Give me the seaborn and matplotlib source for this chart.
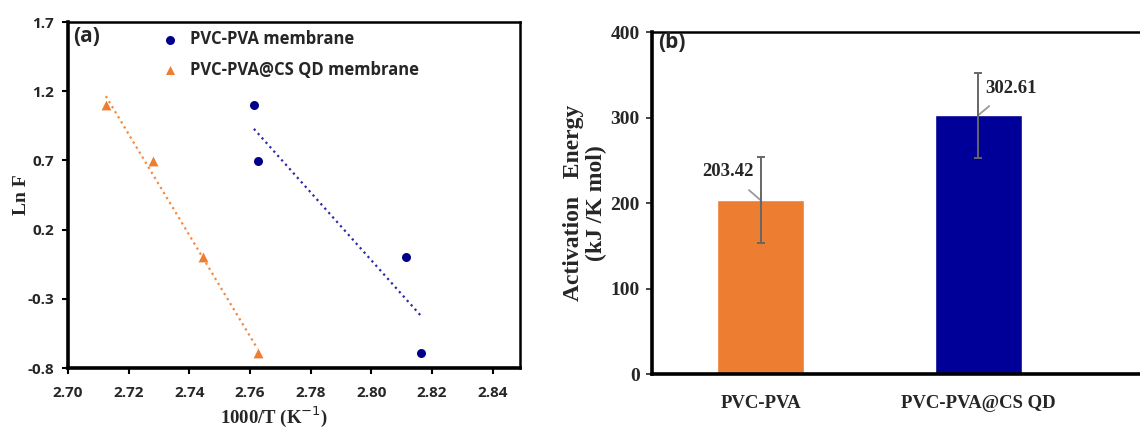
import seaborn as sns
import matplotlib.pyplot as plt
import pandas as pd

# panel (a) data: 1000/T vs ln F
x_pva = [2.7613, 2.7627, 2.8115, 2.8163]
y_pva = [1.0986, 0.693, 0.0, -0.693]
x_qd = [2.7125, 2.7280, 2.7445, 2.7625]
y_qd = [1.0986, 0.693, 0.0, -0.693]

# panel (b) data
membranes = ['PVC-PVA', 'PVC-PVA@CS QD']
energy = [203.42, 302.61]
energy_err = [50, 50]

orange = '#ED7D31'
blue = '#00008B'
serif = 'Liberation Serif'
sans = 'Open Sans'

sns.set_style('white')
plt.rcParams['font.family'] = [sans, 'DejaVu Sans']

fig = plt.figure(figsize=(11.4, 4.34), dpi=100)
ax1 = fig.add_axes([0.0596, 0.152, 0.3965, 0.797])
ax2 = fig.add_axes([0.572, 0.138, 0.4281, 0.788])

# ---- (a)
sns.regplot(x=x_pva, y=y_pva, ax=ax1, ci=None, color=blue, marker='o',
            scatter_kws={'s': 42, 'alpha': 1, 'linewidths': 0, 'zorder': 3},
            line_kws={'ls': ':', 'lw': 1.6, 'color': '#2a2aa8'},
            label='PVC-PVA membrane')
sns.regplot(x=x_qd, y=y_qd, ax=ax1, ci=None, color=orange, marker='^',
            scatter_kws={'s': 50, 'alpha': 1, 'linewidths': 0, 'zorder': 3},
            line_kws={'ls': ':', 'lw': 1.6, 'color': '#F08A45'},
            label='PVC-PVA@CS QD membrane')
ax1.set_xlim(2.70, 2.849)
ax1.set_ylim(-0.8, 1.7)
ax1.set_xticks([2.70, 2.72, 2.74, 2.76, 2.78, 2.80, 2.82, 2.84])
ax1.set_yticks([-0.8, -0.3, 0.2, 0.7, 1.2, 1.7])
ax1.set_xticklabels(['%.2f' % t for t in ax1.get_xticks()], fontsize=11, fontweight='bold')
ax1.set_yticklabels(['%.1f' % t for t in ax1.get_yticks()], fontsize=11, fontweight='bold')
ax1.tick_params(axis='both', direction='out', length=4, width=1.5, color='black',
                left=True, bottom=True)
ax1.tick_params(axis='y', pad=6)
ax1.tick_params(axis='x', pad=9)
for side in ['left', 'bottom']:
    ax1.spines[side].set_linewidth(2.6)
for side in ['top', 'right']:
    ax1.spines[side].set_linewidth(1.8)
for s in ax1.spines.values():
    s.set_color('black')
ax1.set_xlabel('1000/T (K$^{-1}$)', fontsize=13.5, fontweight='bold', family=serif)
ax1.xaxis.set_label_coords(0.455, -0.105)
ax1.set_ylabel('Ln F', fontsize=14, fontweight='bold', family=serif)
ax1.yaxis.set_label_coords(-0.085, 0.5)
ax1.text(0.012, 0.99, '(a)', transform=ax1.transAxes, fontsize=15, fontweight='bold',
         va='top', ha='left')
leg = ax1.legend(loc='upper left', bbox_to_anchor=(0.17, 1.02), frameon=False,
                 prop={'size': 12, 'weight': 'bold'}, handletextpad=0.6,
                 labelspacing=0.75, handlelength=1.2)
for h in leg.legend_handles:
    h.set_sizes([42])

# ---- (b)
df = pd.DataFrame({'membrane': membranes, 'energy': energy})
sns.barplot(data=df, x='membrane', y='energy', hue='membrane',
            palette=[orange, '#000099'], width=0.4, ax=ax2, legend=False,
            saturation=1)
ax2.errorbar(range(len(membranes)), energy, yerr=energy_err, fmt='none',
             ecolor='#666666', elinewidth=1.4, capsize=3, capthick=1.4, zorder=4)
ax2.set_xlim(-0.499, 1.745)
ax2.set_ylim(0, 400)
ax2.set_yticks([0, 100, 200, 300, 400])
ax2.set_yticklabels(['0', '100', '200', '300', '400'], fontsize=14,
                    fontweight='bold', family=serif)
ax2.set_xticks(range(len(membranes)))
ax2.set_xticklabels(membranes, fontsize=13.5, fontweight='bold', family=serif)
ax2.tick_params(axis='y', direction='out', length=4, width=1.2, left=True, pad=5)
ax2.tick_params(axis='x', length=0, pad=15)
ax2.set_xlabel('')
ax2.set_ylabel('Activation   Energy\n(kJ /K mol)', fontsize=17, fontweight='bold',
               family=serif, linespacing=1.1)
ax2.yaxis.set_label_coords(-0.092, 0.5)
ax2.spines['right'].set_visible(False)
ax2.spines['left'].set_linewidth(2.6)
ax2.spines['bottom'].set_linewidth(2.6)
ax2.spines['top'].set_linewidth(1.8)
for s in ax2.spines.values():
    s.set_color('black')
ax2.text(0.012, 1.0, '(b)', transform=ax2.transAxes, fontsize=15, fontweight='bold',
         va='top', ha='left')

# data labels with leader lines
label_off = [(-0.15, 33), (0.15, 32)]
for i, (v, (dx, dy)) in enumerate(zip(energy, label_off)):
    ax2.annotate('%.2f' % v, xy=(i, v), xytext=(i + dx, v + dy),
                 fontsize=13.5, fontweight='bold', family=serif, ha='center', va='center',
                 arrowprops=dict(arrowstyle='-', color='#999999', lw=1.3,
                                 shrinkA=7, shrinkB=0))

fig.savefig('out.png', dpi=100)
